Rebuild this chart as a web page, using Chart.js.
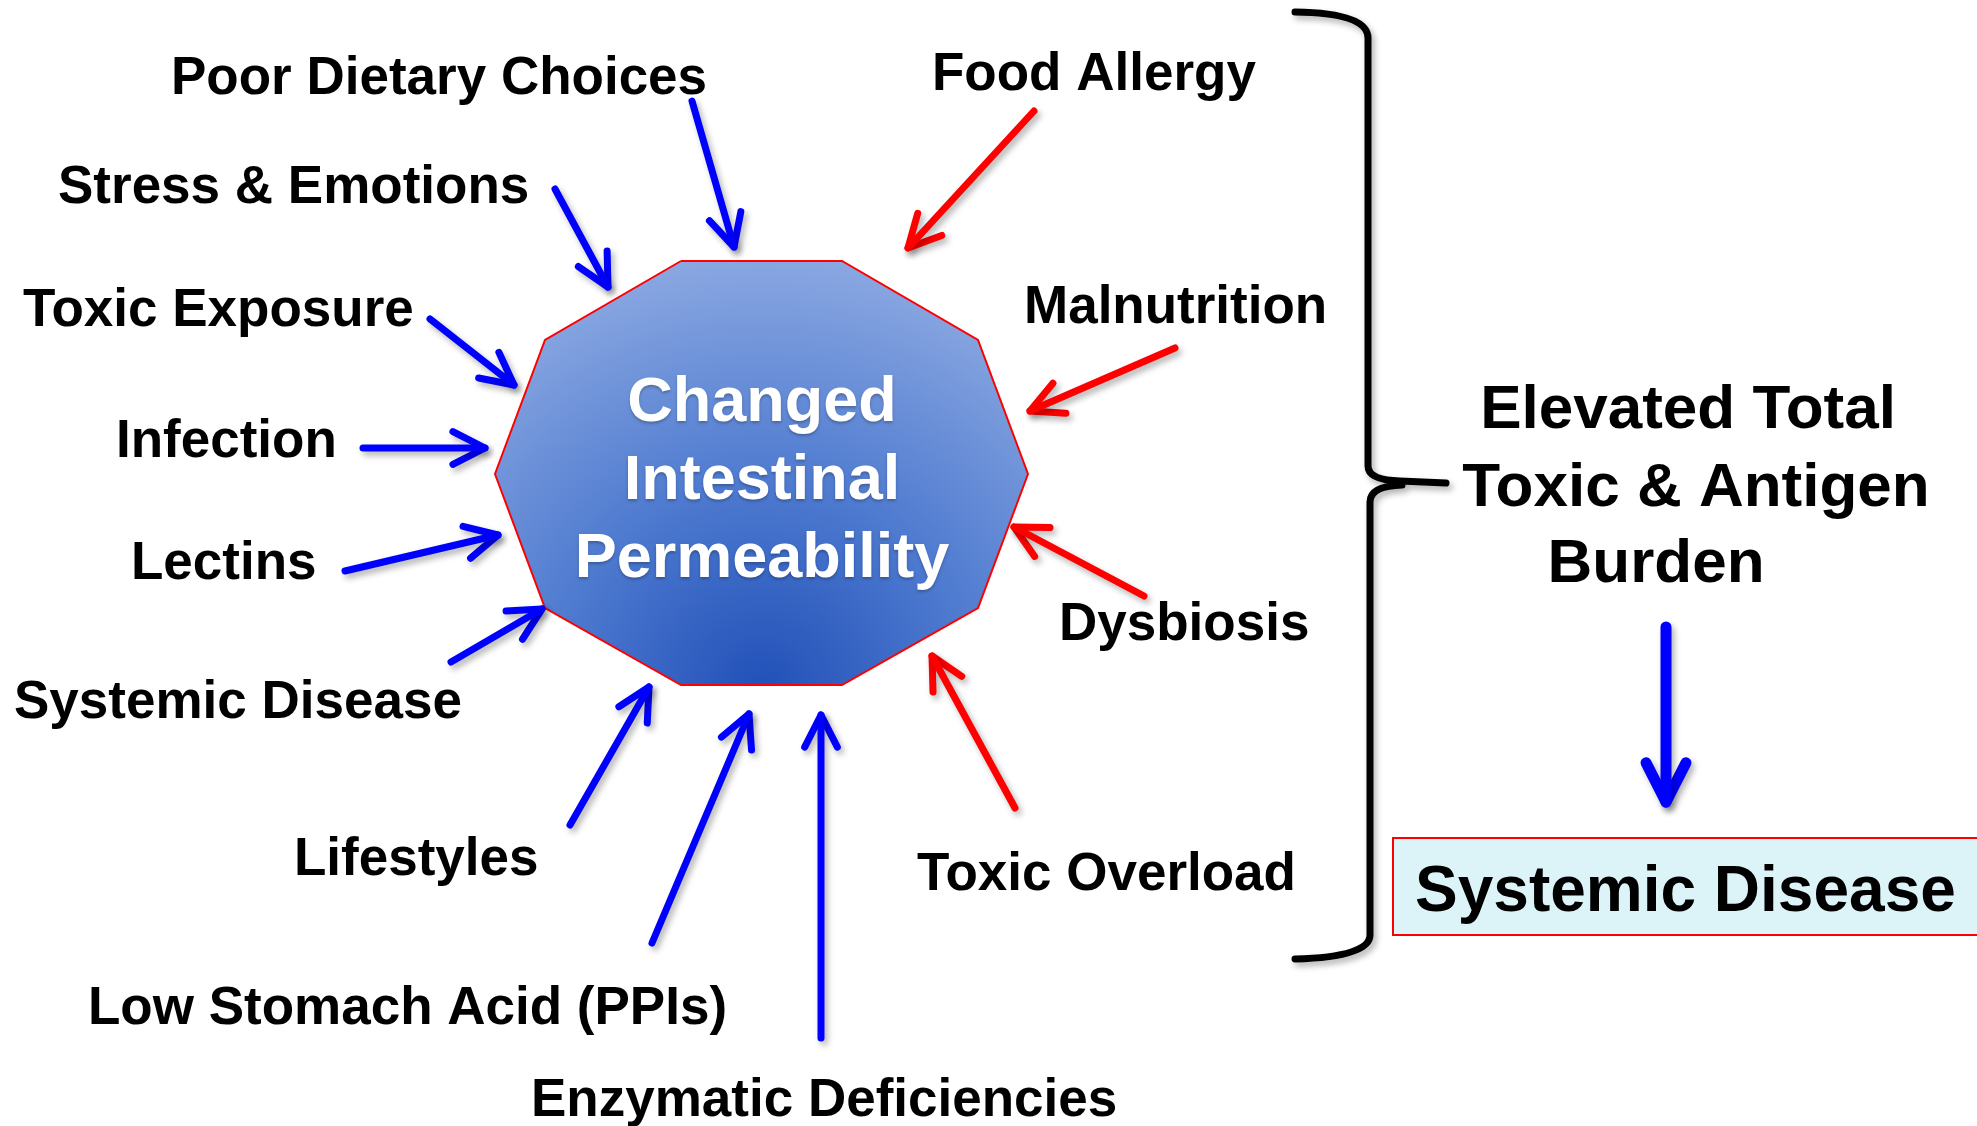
<!DOCTYPE html>
<html>
<head>
<meta charset="utf-8">
<title>Changed Intestinal Permeability</title>
<script src="https://cdn.jsdelivr.net/npm/chart.js@4.4.1/dist/chart.umd.min.js"></script>
<style>
  html, body { margin: 0; padding: 0; background: #fff; }
  #wrap { width: 1977px; height: 1126px; position: relative; }
</style>
</head>
<body>
<div id="wrap"><canvas id="diagrama"></canvas></div>
<script>
// Causas con flecha azul (origen -> punta de la flecha)
const blueCauses = ['Poor Dietary Choices', 'Stress & Emotions', 'Toxic Exposure', 'Infection', 'Lectins',
  'Systemic Disease', 'Lifestyles', 'Low Stomach Acid (PPIs)', 'Enzymatic Deficiencies'];
const blueFrom = [[692, 101], [555, 189], [430, 319], [363, 448], [345, 571], [451, 662], [570, 825], [652, 943], [821, 1038]];
const blueTo = [[734, 247], [608, 287], [514, 385], [485, 448], [498, 535], [542, 609], [649, 687], [749, 714], [821, 715]];

// Causas con flecha roja
const redCauses = ['Food Allergy', 'Malnutrition', 'Dysbiosis', 'Toxic Overload'];
const redFrom = [[1034, 111], [1175, 348], [1144, 596], [1015, 808]];
const redTo = [[908, 248], [1030, 411], [1014, 527], [932, 656]];

// Poligono central
const hubLines = ['Changed', 'Intestinal', 'Permeability'];
const hubX = [681, 842, 978, 1028, 978, 842, 681, 545, 495, 545];
const hubY = [261, 261, 340, 474, 608, 685, 685, 608, 474, 340];

// Lado derecho
const burdenLines = ['Elevated Total', 'Toxic & Antigen', 'Burden'];
const burdenFrom = [1666, 627];
const burdenTo = [1666, 802];
const outcome = 'Systemic Disease';

// Posiciones de texto (izquierda, linea base)
const blueLabelPos = [[171, 94], [58, 203], [23, 326], [116, 457], [131, 579], [14, 718], [294, 875], [88, 1024], [531, 1116]];
const redLabelPos = [[932, 90], [1024, 323], [1059, 640], [917, 890]];
const hubTextPos = [[762, 421], [762, 499], [762, 577]];
const burdenTextPos = [[1688, 428], [1696, 506], [1656, 582]];

const FONT = '"Liberation Sans", Arial, Helvetica, sans-serif';

function chevron(from, to, len, ang) {
  const dx = to[0] - from[0], dy = to[1] - from[1];
  const d = Math.hypot(dx, dy);
  const vx = -dx / d, vy = -dy / d;
  const wing = s => {
    const c = Math.cos(s * ang), sn = Math.sin(s * ang);
    return { x: to[0] + len * (vx * c - vy * sn), y: to[1] + len * (vx * sn + vy * c) };
  };
  return [wing(1), { x: to[0], y: to[1] }, wing(-1)];
}

function arrowSets(from, to, color, width, len) {
  const base = {
    showLine: true, borderColor: color, borderWidth: width, pointRadius: 0,
    borderCapStyle: 'round', borderJoinStyle: 'round', fill: false, conSombra: true
  };
  return [
    Object.assign({}, base, { data: [{ x: from[0], y: from[1] }, { x: to[0], y: to[1] }] }),
    Object.assign({}, base, { data: chevron(from, to, len, 27 * Math.PI / 180) })
  ];
}

const datasets = [];
blueFrom.forEach((f, i) => datasets.push(...arrowSets(f, blueTo[i], '#0000ff', 7, 36)));
redFrom.forEach((f, i) => datasets.push(...arrowSets(f, redTo[i], '#ff0000', 7, 36)));
datasets.push(...arrowSets(burdenFrom, burdenTo, '#0000ff', 11, 44));

const hubPoints = hubX.map((x, i) => ({ x: x, y: hubY[i] }));
hubPoints.push({ x: hubX[0], y: hubY[0] });
datasets.push({
  data: hubPoints,
  showLine: true,
  order: 10,
  borderColor: '#ff0000',
  borderWidth: 2,
  pointRadius: 0,
  fill: 'shape',
  backgroundColor: function(context) {
    const chart = context.chart;
    if (!chart.chartArea) return '#5a82d4';
    const cx = chart.scales.x.getPixelForValue(762);
    const cy = chart.scales.y.getPixelForValue(690);
    const g = chart.ctx.createRadialGradient(cx, cy, 0, cx, cy, 470);
    g.addColorStop(0, '#2150b8');
    g.addColorStop(0.45, '#4f7bd0');
    g.addColorStop(1, '#93aee4');
    return g;
  }
});

// sombras suaves bajo las flechas
const sombra = {
  id: 'sombra',
  beforeDatasetDraw(chart, args) {
    if (!chart.data.datasets[args.index].conSombra) return;
    const ctx = chart.ctx;
    ctx.save();
    ctx.shadowColor = 'rgba(0, 0, 0, 0.3)';
    ctx.shadowBlur = 6;
    ctx.shadowOffsetX = 3;
    ctx.shadowOffsetY = 4;
  },
  afterDatasetDraw(chart, args) {
    if (!chart.data.datasets[args.index].conSombra) return;
    chart.ctx.restore();
  }
};

// llave, caja y textos
const textos = {
  id: 'textos',
  beforeDatasetsDraw(chart) {
    const ctx = chart.ctx;
    const X = v => chart.scales.x.getPixelForValue(v);
    const Y = v => chart.scales.y.getPixelForValue(v);

    ctx.save();
    ctx.shadowColor = 'rgba(0, 0, 0, 0.3)';
    ctx.shadowBlur = 6;
    ctx.shadowOffsetX = 3;
    ctx.shadowOffsetY = 4;
    ctx.strokeStyle = '#000';
    ctx.lineWidth = 7;
    ctx.lineCap = 'round';
    ctx.lineJoin = 'round';
    ctx.beginPath();
    ctx.moveTo(X(1295), Y(12));
    ctx.quadraticCurveTo(X(1368), Y(13), X(1368), Y(38));
    ctx.lineTo(X(1368), Y(466));
    ctx.quadraticCurveTo(X(1368), Y(480), X(1400), Y(481));
    ctx.lineTo(X(1446), Y(483));
    ctx.moveTo(X(1402), Y(485));
    ctx.quadraticCurveTo(X(1370), Y(486), X(1370), Y(502));
    ctx.lineTo(X(1370), Y(935));
    ctx.quadraticCurveTo(X(1370), Y(957), X(1295), Y(959));
    ctx.stroke();
    ctx.restore();

    ctx.save();
    ctx.fillStyle = '#dcf3f8';
    ctx.fillRect(X(1393), Y(838), X(1990) - X(1393), Y(935) - Y(838));
    ctx.strokeStyle = '#ff0000';
    ctx.lineWidth = 2;
    ctx.strokeRect(X(1393), Y(838), X(1990) - X(1393), Y(935) - Y(838));
    ctx.restore();
  },
  afterDatasetsDraw(chart) {
    const ctx = chart.ctx;
    const X = v => chart.scales.x.getPixelForValue(v);
    const Y = v => chart.scales.y.getPixelForValue(v);
    ctx.save();
    ctx.fillStyle = '#000';
    ctx.textBaseline = 'alphabetic';
    ctx.textAlign = 'left';
    ctx.font = 'bold 53px ' + FONT;
    blueCauses.forEach((t, i) => ctx.fillText(t, X(blueLabelPos[i][0]), Y(blueLabelPos[i][1])));
    redCauses.forEach((t, i) => ctx.fillText(t, X(redLabelPos[i][0]), Y(redLabelPos[i][1])));

    ctx.textAlign = 'center';
    ctx.font = 'bold 62px ' + FONT;
    burdenLines.forEach((t, i) => ctx.fillText(t, X(burdenTextPos[i][0]), Y(burdenTextPos[i][1])));

    ctx.textAlign = 'left';
    ctx.font = 'bold 64px ' + FONT;
    ctx.fillText(outcome, X(1415), Y(911));

    ctx.textAlign = 'center';
    ctx.fillStyle = '#fff';
    ctx.font = 'bold 63px ' + FONT;
    ctx.shadowColor = 'rgba(0, 0, 0, 0.25)';
    ctx.shadowBlur = 3;
    ctx.shadowOffsetY = 2;
    hubLines.forEach((t, i) => ctx.fillText(t, X(hubTextPos[i][0]), Y(hubTextPos[i][1])));
    ctx.restore();
  }
};

new Chart(document.getElementById('diagrama'), {
  type: 'scatter',
  data: { datasets: datasets },
  options: {
    responsive: true,
    maintainAspectRatio: false,
    animation: false,
    events: [],
    layout: { padding: 0 },
    scales: {
      x: { type: 'linear', min: 0, max: 1977, display: false },
      y: { type: 'linear', min: 0, max: 1126, reverse: true, display: false }
    },
    plugins: {
      legend: { display: false },
      tooltip: { enabled: false }
    }
  },
  plugins: [sombra, textos]
});
</script>
</body>
</html>
